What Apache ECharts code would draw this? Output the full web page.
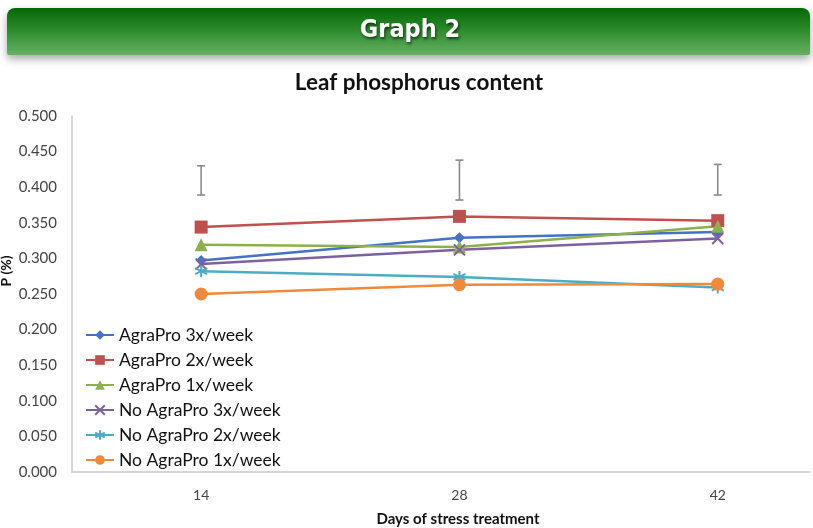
<!DOCTYPE html>
<html><head><meta charset="utf-8">
<script src="https://cdn.jsdelivr.net/npm/echarts@6/dist/echarts.min.js"></script>
<style>html,body{margin:0;padding:0;background:#fff}#c{width:813px;height:528px}</style>
</head><body><div id="c"></div>
<script>
const days = [14, 28, 42];
const xTicks = [14, 28, 42];
const seriesNames = ['AgraPro 3x/week','AgraPro 2x/week','AgraPro 1x/week','No AgraPro 3x/week','No AgraPro 2x/week','No AgraPro 1x/week'];
const agra3 = [0.297, 0.329, 0.337];
const agra2 = [0.344, 0.359, 0.353];
const agra1 = [0.319, 0.316, 0.345];
const noAgra3 = [0.292, 0.312, 0.328];
const noAgra2 = [0.282, 0.274, 0.259];
const noAgra1 = [0.250, 0.263, 0.264];
const errLow = [0.389, 0.382, 0.389];
const errHigh = [0.430, 0.438, 0.432];

const colors = ['#4472c4','#c0504d','#8db04a','#7e60a2','#4bacc6','#f08a3a'];
const values = [agra3, agra2, agra1, noAgra3, noAgra2, noAgra1];
const symbols = ['diamond','rect','triangle',
  'path://M0,0L10,10M10,0L0,10',
  'path://M5,0L5,10M0,2.5L10,7.5M0,7.5L10,2.5',
  'circle'];
const sizes = [11, 13, 13, 11, 12, 13];

const chart = echarts.init(document.getElementById('c'));
const series = values.map((v, i) => ({
  name: seriesNames[i], type: 'line',
  data: days.map((d, j) => [d, v[j]]),
  symbol: symbols[i], symbolSize: sizes[i],
  lineStyle: {color: colors[i], width: 2.5},
  itemStyle: (i === 3 || i === 4) ? {color: colors[i], borderColor: colors[i], borderWidth: 2} : {color: colors[i]},
  z: 3
}));
series.push({
  type: 'custom', name: 'err', silent: true,
  data: days.map((d, j) => [d, errLow[j], errHigh[j]]),
  renderItem: function (params, api) {
    const x = api.value(0);
    const lo = api.coord([x, api.value(1)]);
    const hi = api.coord([x, api.value(2)]);
    const w = 4;
    const st = {stroke: '#8a8a8a', lineWidth: 1.6};
    return {type: 'group', children: [
      {type: 'line', shape: {x1: lo[0], y1: lo[1], x2: hi[0], y2: hi[1]}, style: st},
      {type: 'line', shape: {x1: lo[0]-w, y1: lo[1], x2: lo[0]+w, y2: lo[1]}, style: st},
      {type: 'line', shape: {x1: hi[0]-w, y1: hi[1], x2: hi[0]+w, y2: hi[1]}, style: st}
    ]};
  }
});

chart.setOption({
  animation: false,
  textStyle: {fontFamily: 'Lato'},
  grid: {left: 72, right: 3, top: 116, bottom: 56},
  xAxis: {
    type: 'value', min: 7, max: 47, interval: 7,
    splitLine: {show: false},
    axisTick: {show: false},
    axisLine: {lineStyle: {color: '#c8c8c8', width: 1.5}},
    axisLabel: {margin: 16, color: '#444', fontSize: 14, fontFamily: 'Lato',
      formatter: v => xTicks.indexOf(v) >= 0 ? String(v) : ''}
  },
  yAxis: {
    type: 'value', min: 0, max: 0.5, interval: 0.05,
    splitLine: {show: false},
    axisTick: {show: false},
    axisLine: {show: true, lineStyle: {color: '#c8c8c8', width: 1.5}},
    axisLabel: {margin: 15, color: '#444', fontSize: 15, fontFamily: 'Lato',
      formatter: v => v.toFixed(3)}
  },
  legend: {
    orient: 'vertical', left: 80, top: 321, itemGap: 7,
    itemWidth: 28, itemHeight: 12,
    data: seriesNames,
    textStyle: {fontSize: 17.5, color: '#111', fontFamily: 'Lato'}
  },
  graphic: [
    {type: 'rect', shape: {x: 7, y: 8, width: 803, height: 47, r: [8, 8, 2, 2]},
     style: {
       fill: new echarts.graphic.LinearGradient(0, 0, 0, 1, [
         {offset: 0, color: '#056805'}, {offset: 0.45, color: '#2a8a2a'}, {offset: 1, color: '#66b066'}]),
       shadowBlur: 8, shadowColor: 'rgba(0,0,0,0.35)', shadowOffsetY: 4
     }},
    {type: 'text', x: 410, y: 30,
     style: {text: 'Graph 2', fill: '#fff', font: 'bold 25px "DejaVu Sans Condensed"', textAlign: 'center', textVerticalAlign: 'middle',
       textShadowBlur: 3, textShadowColor: 'rgba(0,0,0,0.6)', textShadowOffsetX: 1, textShadowOffsetY: 2}},
    {type: 'text', x: 419, y: 83,
     style: {text: 'Leaf phosphorus content', fill: '#111', font: 'bold 22.5px Lato', textAlign: 'center', textVerticalAlign: 'middle'}},
    {type: 'text', x: 458, y: 519,
     style: {text: 'Days of stress treatment', fill: '#111', font: 'bold 15px Lato', textAlign: 'center', textVerticalAlign: 'middle'}},
    {type: 'text', x: 6, y: 271, rotation: Math.PI / 2,
     style: {text: 'P (%)', fill: '#111', font: 'bold 14px Lato', textAlign: 'center', textVerticalAlign: 'middle'}}
  ],
  series: series
});
</script></body></html>
